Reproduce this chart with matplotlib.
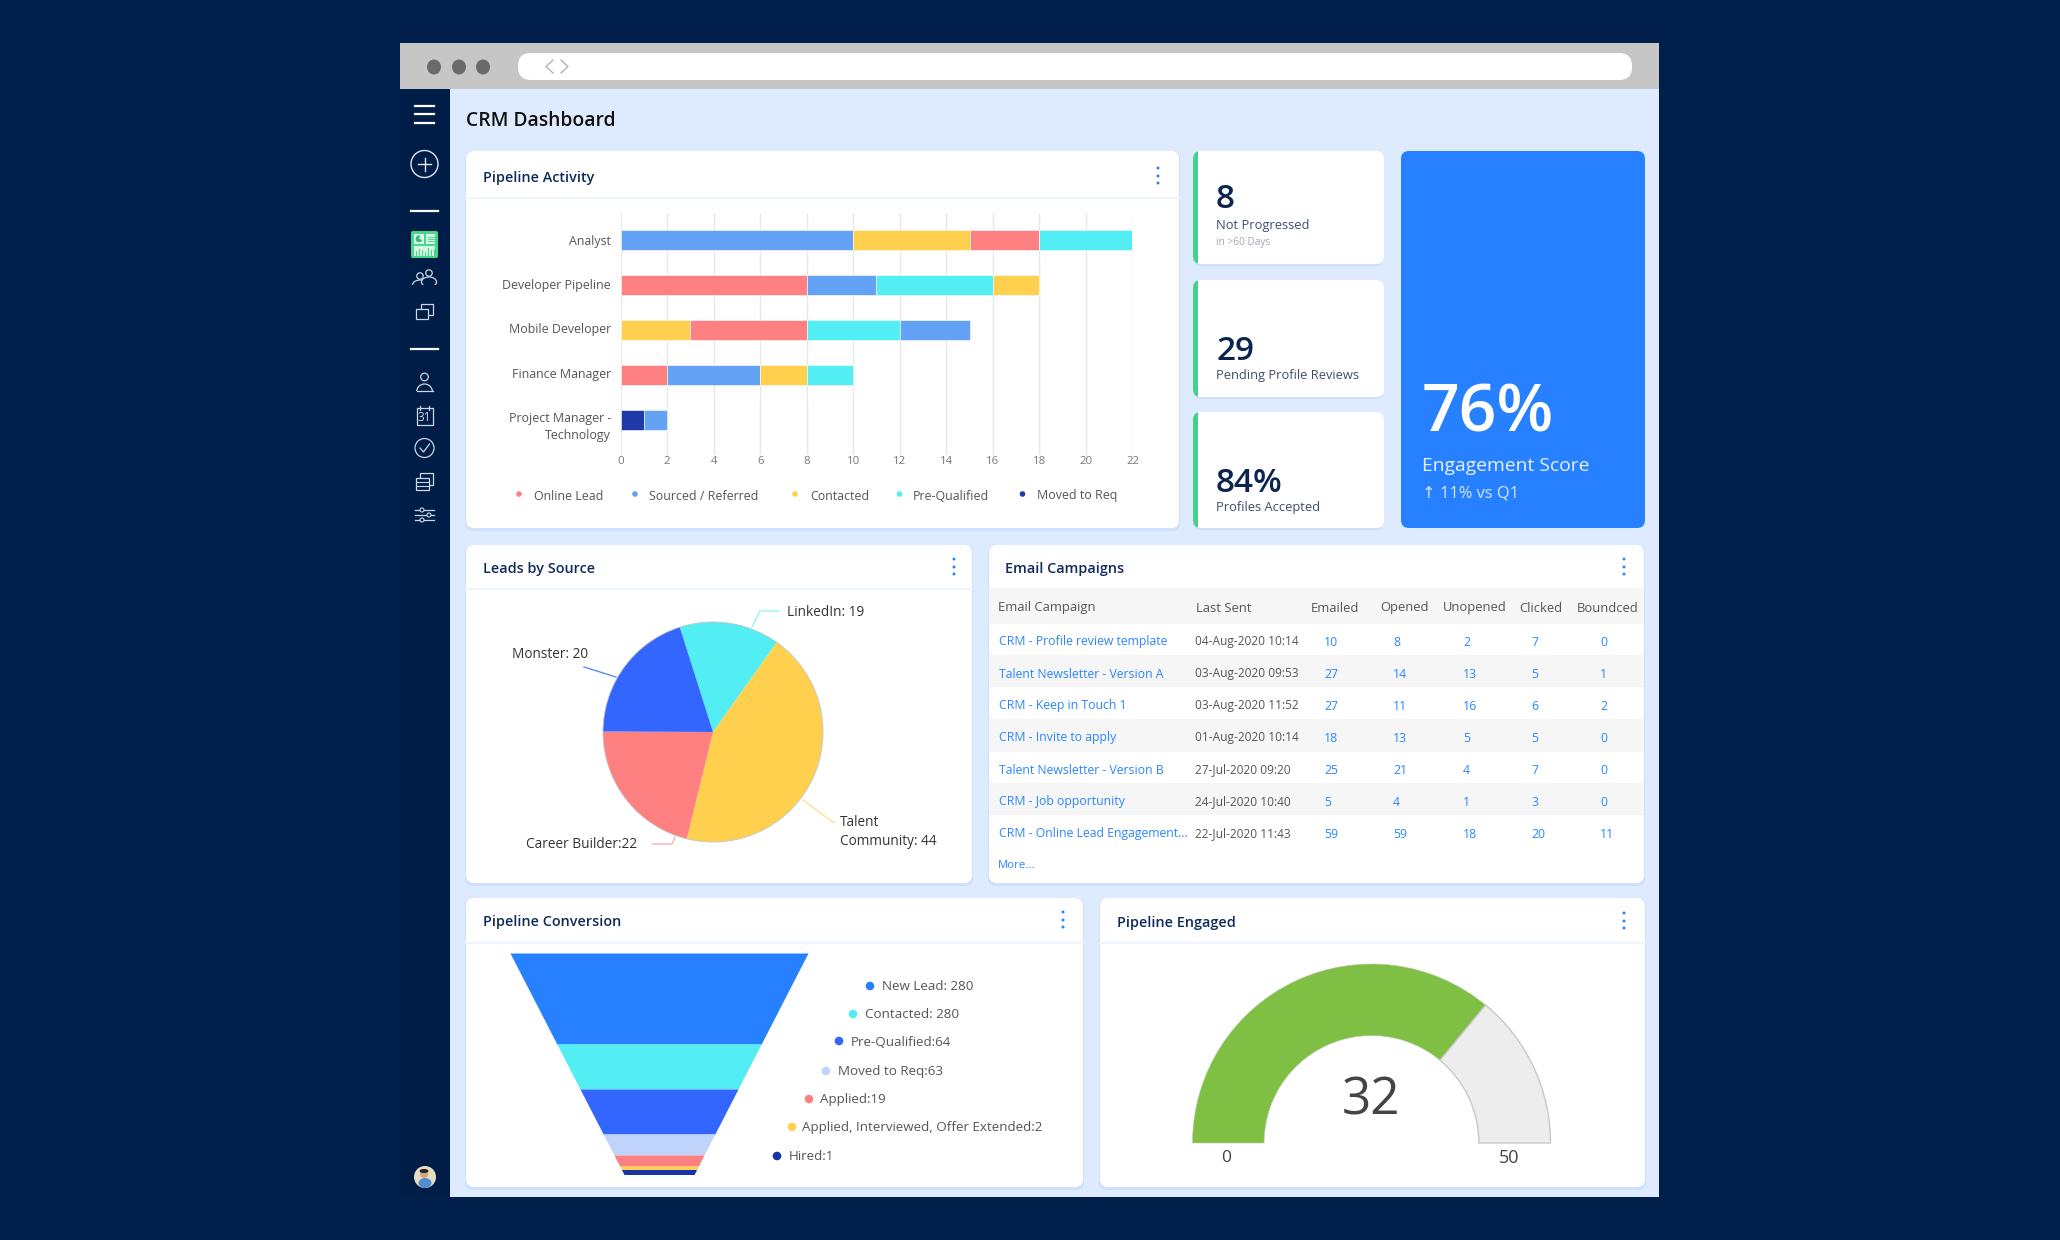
import matplotlib
matplotlib.use('Agg')
import numpy as np
import matplotlib.pyplot as plt
from matplotlib.patches import FancyBboxPatch, Rectangle, Circle, Ellipse, Wedge

plt.rcParams['font.family'] = ['Open Sans', 'DejaVu Sans']

W, H = 2060, 1240

# pipeline activity
bar_categories = ['Analyst', 'Developer Pipeline', 'Mobile Developer', 'Finance Manager', 'Project Manager -\nTechnology']
bar_stages = [['Sourced / Referred', 'Contacted', 'Online Lead', 'Pre-Qualified'],
              ['Online Lead', 'Sourced / Referred', 'Pre-Qualified', 'Contacted'],
              ['Contacted', 'Online Lead', 'Pre-Qualified', 'Sourced / Referred'],
              ['Online Lead', 'Sourced / Referred', 'Contacted', 'Pre-Qualified'],
              ['Moved to Req', 'Sourced / Referred']]
bar_values = [[10, 5, 3, 4],
              [8, 3, 5, 2],
              [3, 5, 4, 3],
              [2, 4, 2, 2],
              [1, 1]]
stage_names = ['Online Lead', 'Sourced / Referred', 'Contacted', 'Pre-Qualified', 'Moved to Req']
stage_colors = ['#ff8080', '#64a2f5', '#ffd04d', '#52eef3', '#1f3aa8']
bar_ticks = [0, 2, 4, 6, 8, 10, 12, 14, 16, 18, 20, 22]

# leads by source (slice sizes, labels as printed)
lead_labels = ['LinkedIn: 19', 'Talent\nCommunity: 44', 'Career Builder:22', 'Monster: 20']
lead_sizes = [14.7, 43.9, 21.2, 20.0]
lead_colors = ['#52eef3', '#ffd04d', '#ff8080', '#3366ff']

# kpi cards
kpi_numbers = ['8', '29', '84%']
kpi_labels = ['Not Progressed', 'Pending Profile Reviews', 'Profiles Accepted']

# email campaigns
email_columns = ['Email Campaign', 'Last Sent', 'Emailed', 'Opened', 'Unopened', 'Clicked', 'Boundced']
email_names = ['CRM - Profile review template', 'Talent Newsletter - Version A', 'CRM - Keep in Touch 1',
               'CRM - Invite to apply', 'Talent Newsletter - Version B', 'CRM - Job opportunity',
               'CRM - Online Lead Engagement...']
email_dates = ['04-Aug-2020 10:14', '03-Aug-2020 09:53', '03-Aug-2020 11:52', '01-Aug-2020 10:14',
               '27-Jul-2020 09:20', '24-Jul-2020 10:40', '22-Jul-2020 11:43']
emailed = [10, 27, 27, 18, 25, 5, 59]
opened = [8, 14, 11, 13, 21, 4, 59]
unopened = [2, 13, 16, 5, 4, 1, 18]
clicked = [7, 5, 6, 5, 7, 3, 20]
bounced = [0, 1, 2, 0, 0, 0, 11]

# pipeline conversion (band heights, labels as printed)
funnel_labels = ['New Lead: 280', 'Contacted: 280', 'Pre-Qualified:64', 'Moved to Req:63', 'Applied:19',
                 'Applied, Interviewed, Offer Extended:2', 'Hired:1']
funnel_heights = [91, 45, 45, 21, 11, 3.5, 5]
funnel_colors = ['#2680ff', '#52eef3', '#3366ff', '#c0d4fb', '#ff8080', '#ffd04d', '#1633a8']

# pipeline engaged
gauge_label = '32'
gauge_fill = 36
gauge_max = 50

NAVY = '#0f2b5b'
GREY = '#4f4f4f'
LINK = '#2a85ff'


def px_axes(x0, y0, x1, y1):
    ax = fig.add_axes([x0 / W, 1 - y1 / H, (x1 - x0) / W, (y1 - y0) / H])
    ax.patch.set_visible(False)
    return ax


def text(x, y, s, size, color=GREY, weight='normal', ha='left', **kw):
    # va center sits a bit high for this font
    return bg.text(x, y + 2, s, fontsize=size, color=color, fontweight=weight, ha=ha, va='center', **kw)


def rrect(x0, y0, x1, y1, r=8, fc='white', ec='none', lw=0, z=2):
    p = FancyBboxPatch((x0 + r, y0 + r), x1 - x0 - 2 * r, y1 - y0 - 2 * r,
                       boxstyle='round,pad=%f,rounding_size=%f' % (r, r), fc=fc, ec=ec, lw=lw, zorder=z)
    bg.add_patch(p)
    return p


def card(x0, y0, x1, y1, title=None, dots_x=None, head_y=None, title_x=None, title_y=None):
    rrect(x0 - 1, y0, x1 + 1, y1 + 3, fc='#cfe0fa', z=1.5)
    rrect(x0, y0, x1, y1)
    if title:
        text(title_x, title_y, title, 10.4, NAVY, 'semibold', zorder=4)
    if dots_x:
        for dy in [-8, 0, 7]:
            bg.add_patch(Circle((dots_x, title_y + dy), 1.5, fc=LINK, ec='none', zorder=4))
    if head_y:
        bg.plot([x0, x1], [head_y, head_y], color='#eef4fe', lw=1.5, zorder=3)


fig = plt.figure(figsize=(W / 100, H / 100), dpi=100, facecolor='#001f4a')

# full-figure pixel layer for the window chrome and cards
bg = fig.add_axes([0, 0, 1, 1])
bg.set_xlim(0, W)
bg.set_ylim(H, 0)
bg.axis('off')

# browser window
bg.add_patch(Rectangle((400, 43), 1259, 46, fc='#c6c6c6', ec='none'))
bg.add_patch(Rectangle((400, 89), 50, 1108, fc='#001d48', ec='none'))
bg.add_patch(Rectangle((450, 89), 1209, 1108, fc='#deebff', ec='none'))
for cx in [434, 459, 483]:
    bg.add_patch(Ellipse((cx, 67), 14, 15, fc='#6a6a6a', ec='none'))
rrect(518, 53, 1632, 80, r=13, z=2)
bg.plot([553, 546, 553], [60, 66.5, 73], color='#ababab', lw=0.9, zorder=3)
bg.plot([561, 568, 561], [60, 66.5, 73], color='#ababab', lw=0.9, zorder=3)

# sidebar icons
for y in [106, 114, 123]:
    bg.plot([415, 434], [y, y], color='white', lw=1.6, zorder=3)
bg.add_patch(Circle((424.5, 164), 13.5, fc='none', ec='#dfe6f0', lw=1, zorder=3))
bg.plot([418, 431], [164, 164], color='#dfe6f0', lw=1, zorder=3)
bg.plot([424.5, 424.5], [157.5, 170.5], color='#dfe6f0', lw=1, zorder=3)
for y in [211, 349]:
    bg.plot([411, 438], [y, y], color='white', lw=1.6, zorder=3)
rrect(411, 231, 438, 258, r=2, fc='#46d68c', z=3)
bg.add_patch(Rectangle((414, 234), 10, 9.5, fc='#d8f7e6', ec='none', zorder=4))
bg.add_patch(Rectangle((426, 234), 9, 9.5, fc='#d8f7e6', ec='none', zorder=4))
bg.add_patch(Rectangle((414, 246), 21, 9.5, fc='#d8f7e6', ec='none', zorder=4))
bg.add_patch(Wedge((419, 238.8), 3.4, 20, 290, fc='#3db47a', ec='none', zorder=4.1))
for y in [236.5, 238.8, 241]:
    bg.plot([427.5, 433.5], [y, y], color='#46d68c', lw=0.7, zorder=4.1)
for dx, top in zip([416, 419, 422, 425, 428, 431, 433.5], [251, 249, 250, 252, 248, 250, 249]):
    bg.plot([dx, dx], [top, 255], color='#46d68c', lw=0.8, zorder=4.1)
ICON = '#cdd6e3'
# people
for cx, cy in [(420, 276), (429, 273)]:
    bg.add_patch(Circle((cx, cy), 3.2, fc='#001d48', ec=ICON, lw=0.9, zorder=3))
    bg.add_patch(Ellipse((cx, cy + 9), 15, 10, fc='#001d48', ec=ICON, lw=0.9, zorder=2.9))
bg.add_patch(Rectangle((410, 285), 30, 6, fc='#001d48', ec='none', zorder=3))
# folders
bg.add_patch(Rectangle((421, 304), 12, 11, fc='#001d48', ec=ICON, lw=0.9, zorder=3))
bg.add_patch(Rectangle((416, 309), 12, 10, fc='#001d48', ec=ICON, lw=0.9, zorder=3))
# person
bg.add_patch(Circle((424.5, 377), 3.8, fc='none', ec=ICON, lw=0.9, zorder=3))
bg.add_patch(Ellipse((424.5, 392), 16, 16, fc='none', ec=ICON, lw=0.9, zorder=3))
bg.add_patch(Rectangle((412, 391), 26, 10, fc='#001d48', ec='none', zorder=3.1))
bg.plot([416.5, 432.5], [391, 391], color=ICON, lw=0.9, zorder=3.2)
# calendar
bg.add_patch(Rectangle((416.5, 408), 16, 17, fc='none', ec=ICON, lw=0.9, zorder=3))
for dx in [420, 429]:
    bg.plot([dx, dx], [405.5, 410], color=ICON, lw=0.9, zorder=3)
text(424.5, 415.5, '31', 8.5, ICON, ha='center', zorder=3)
# check
bg.add_patch(Circle((424.5, 448), 9.5, fc='none', ec=ICON, lw=0.9, zorder=3))
bg.plot([420, 423.5, 429.5], [448, 452, 444], color=ICON, lw=0.9, zorder=3)
# table
bg.add_patch(Rectangle((420, 473), 13, 12, fc='#001d48', ec=ICON, lw=0.9, zorder=3))
bg.add_patch(Rectangle((415.5, 478), 13, 12, fc='#001d48', ec=ICON, lw=0.9, zorder=3))
for y in [482, 486]:
    bg.plot([416, 428], [y, y], color=ICON, lw=0.8, zorder=3.1)
# sliders
for y, cx in [(510, 422), (515, 429), (520, 422)]:
    bg.plot([415, 434], [y, y], color=ICON, lw=0.9, zorder=3)
    bg.add_patch(Circle((cx, y), 2, fc='#001d48', ec=ICON, lw=0.8, zorder=3.1))
# avatar
bg.add_patch(Circle((425, 1177), 11, fc='#e6dcc0', ec='none', zorder=3))
bg.add_patch(Ellipse((425, 1183), 13, 10, fc='#4f8fd0', ec='none', zorder=3.1))
bg.add_patch(Circle((424, 1174), 4, fc='#d9a184', ec='none', zorder=3.2))
bg.add_patch(Ellipse((424, 1171), 9, 4, fc='#252525', ec='none', zorder=3.3))

text(466, 119, 'CRM Dashboard', 13.9, '#111111', 'semibold')

# cards
card(466, 151, 1179, 528, 'Pipeline Activity', 1158, 198, 483, 176)
card(466, 545, 972, 883, 'Leads by Source', 954, 589, 483, 567)
card(989, 545, 1644, 883, 'Email Campaigns', 1624, None, 1005, 567)
card(466, 898, 1083, 1187, 'Pipeline Conversion', 1063, 943, 483, 920)
card(1100, 898, 1645, 1187, 'Pipeline Engaged', 1624, 943, 1117, 921)

# small kpi cards
kpi_boxes = [(151, 264), (280, 397), (412, 528)]
kpi_num_y = [198, 349, 481]
kpi_lab_y = [224, 374, 505]
for (y0, y1), num, lab, ny, ly in zip(kpi_boxes, kpi_numbers, kpi_labels, kpi_num_y, kpi_lab_y):
    rrect(1193, y0, 1384, y1 + 2, fc='#cfe0fa', z=1.5)
    rrect(1193, y0, 1384, y1, fc='#46d08a', z=2)
    rrect(1198, y0, 1384, y1, r=7, z=2.1)
    bg.add_patch(Rectangle((1198, y0), 8, y1 - y0, fc='white', ec='none', zorder=2.2))
    text(1216, ny, num, 24, '#0c2450', 'semibold', zorder=4)
    text(1216, ly, lab, 9.3, '#3e4e68', zorder=4)
text(1216, 240, 'in >60 Days', 7.2, '#a3a9b3', zorder=4)

# engagement card
rrect(1401, 151, 1645, 528, r=8, fc='#2680ff', z=2)
text(1422, 413, '76%', 47.5, 'white', 'semibold', zorder=4)
text(1422, 464, 'Engagement Score', 13.9, '#e8f1ff', zorder=4)
text(1422, 491, '↑ 11% vs Q1', 11.8, '#d5e6ff', zorder=4)

# stacked bars
ax = px_axes(620.5, 213, 1132.5, 455)
for i in range(len(bar_categories)):
    left = 0
    for stage, val in zip(bar_stages[i], bar_values[i]):
        ax.barh(i, val, left=left, height=0.43, color=stage_colors[stage_names.index(stage)],
                edgecolor='white', linewidth=0.4, zorder=3)
        left += val
ax.set_xlim(0, 22)
ax.set_ylim(4.778, -0.6)
ax.set_xticks(bar_ticks)
ax.set_yticks([])
ax.tick_params(axis='x', length=0, pad=1, labelsize=8.2, labelcolor='#777777')
ax.grid(axis='x', color='#e8e8e8', lw=1, zorder=0)
for s in ax.spines.values():
    s.set_visible(False)

category_y = [240, 284, 328, 372.5, 425]
for lab, y in zip(bar_categories, category_y):
    text(611, y, lab, 8.95, '#555555', 'medium', ha='right', zorder=4, linespacing=1.4)

legend_dot_x = [519, 635, 795, 899.5, 1022.5]
legend_txt_x = [534, 649, 810, 913, 1037]
for name, col, dx, tx in zip(stage_names, stage_colors, legend_dot_x, legend_txt_x):
    bg.add_patch(Circle((dx, 494), 2.8, fc=col, ec='none', zorder=4))
    text(tx, 494, name, 8.9, '#555555', 'medium', zorder=4)

# pie
ax = px_axes(603, 622, 823, 842)
ax.pie(lead_sizes, colors=lead_colors, startangle=107.6, counterclock=False, radius=1,
       wedgeprops={'linewidth': 0})
ax.add_patch(Circle((0, 0), 1, fill=False, ec='#c4c4c4', lw=0.6))
ax.set_xlim(-1, 1)
ax.set_ylim(-1, 1)
for t in ax.patches:
    t.set_clip_on(False)

lead_text_pos = [(787, 611), (840, 830), (526, 843), (512, 652)]
for lab, (x, y) in zip(lead_labels, lead_text_pos):
    text(x, y, lab, 9.8, '#333333', zorder=4, linespacing=1.35)
bg.plot([752, 760, 779], [627, 611, 611], color='#7ff2f6', lw=0.8, zorder=4)
bg.plot([584, 616], [667, 677], color='#5a8cff', lw=1, zorder=4)
bg.plot([652, 672, 675], [844, 844, 837], color='#ffb0b0', lw=1, zorder=4)
bg.plot([803, 834], [800, 823], color='#ffe08f', lw=1, zorder=4)

# email table
bg.add_patch(Rectangle((989, 588), 655, 36, fc='#f6f6f6', ec='none', zorder=3))
for y0, y1 in [(655, 687), (719, 752), (783, 815)]:
    bg.add_patch(Rectangle((989, y0), 655, y1 - y0, fc='#f6f6f6', ec='none', zorder=3))
header_x = [998, 1196, 1311, 1380, 1443, 1519, 1577]
for col, x in zip(email_columns, header_x):
    text(x, 606, col, 9.4, '#555555', 'medium', zorder=4)
row_y = [640, 672, 704, 736, 768, 800, 832]
num_cols = [emailed, opened, unopened, clicked, bounced]
num_x = [1324, 1393, 1463, 1531, 1600]
for r, y in enumerate(row_y):
    text(999, y, email_names[r], 8.85, LINK, 'medium', zorder=4)
    text(1195, y, email_dates[r], 8.6, '#555555', 'medium', zorder=4)
    for col, x in zip(num_cols, num_x):
        text(x, y, str(col[r]), 8.85, LINK, 'medium', zorder=4)
text(998, 864, 'More...', 8.2, LINK, 'medium', zorder=4)

# funnel
ax = px_axes(510, 953, 808, 1174.5)
edges = np.concatenate([[0], np.cumsum(funnel_heights)])
total = edges[-1]
for i, col in enumerate(funnel_colors):
    ys = edges[i:i + 2]
    half = 149 - (149 - 35) * ys / total
    ax.fill_betweenx(ys, -half, half, color=col, lw=0)
ax.set_xlim(-149, 149)
ax.set_ylim(total, 0)
ax.axis('off')

funnel_dot_x = [870, 853, 839, 826, 809, 792, 777]
funnel_txt_x = [882, 865, 851, 837.5, 820, 802, 788.5]
funnel_y = [986, 1014, 1041, 1071, 1099, 1127, 1156]
for lab, col, dx, tx, y in zip(funnel_labels, funnel_colors, funnel_dot_x, funnel_txt_x, funnel_y):
    bg.add_patch(Circle((dx, y), 4.3, fc=col, ec='none', zorder=4))
    text(tx, y - 1, lab, 9.65, '#555555', 'medium', zorder=4)

# gauge
ax = px_axes(1371.5 - 179, 1143 - 179, 1371.5 + 179, 1143 + 179)
wedges, _ = ax.pie([gauge_fill, gauge_max - gauge_fill, gauge_max], colors=['#7fc044', '#ededed', 'white'],
                   startangle=180, counterclock=False, radius=1, wedgeprops={'width': 0.4})
wedges[0].set_edgecolor('#b9c9a8')
wedges[0].set_linewidth(0.4)
wedges[1].set_edgecolor('#c8c8c8')
wedges[1].set_linewidth(1)
wedges[2].set_visible(False)
ax.set_xlim(-1, 1)
ax.set_ylim(-1, 1)
text(1371.5, 1099, gauge_label, 37, '#444444', ha='center', zorder=6)
text(1226, 1156, '0', 12.5, '#444444', ha='center', zorder=6)
text(1509, 1156, str(gauge_max), 13, '#444444', ha='center', zorder=6)

fig.savefig('out.png', dpi=100, facecolor=fig.get_facecolor())
